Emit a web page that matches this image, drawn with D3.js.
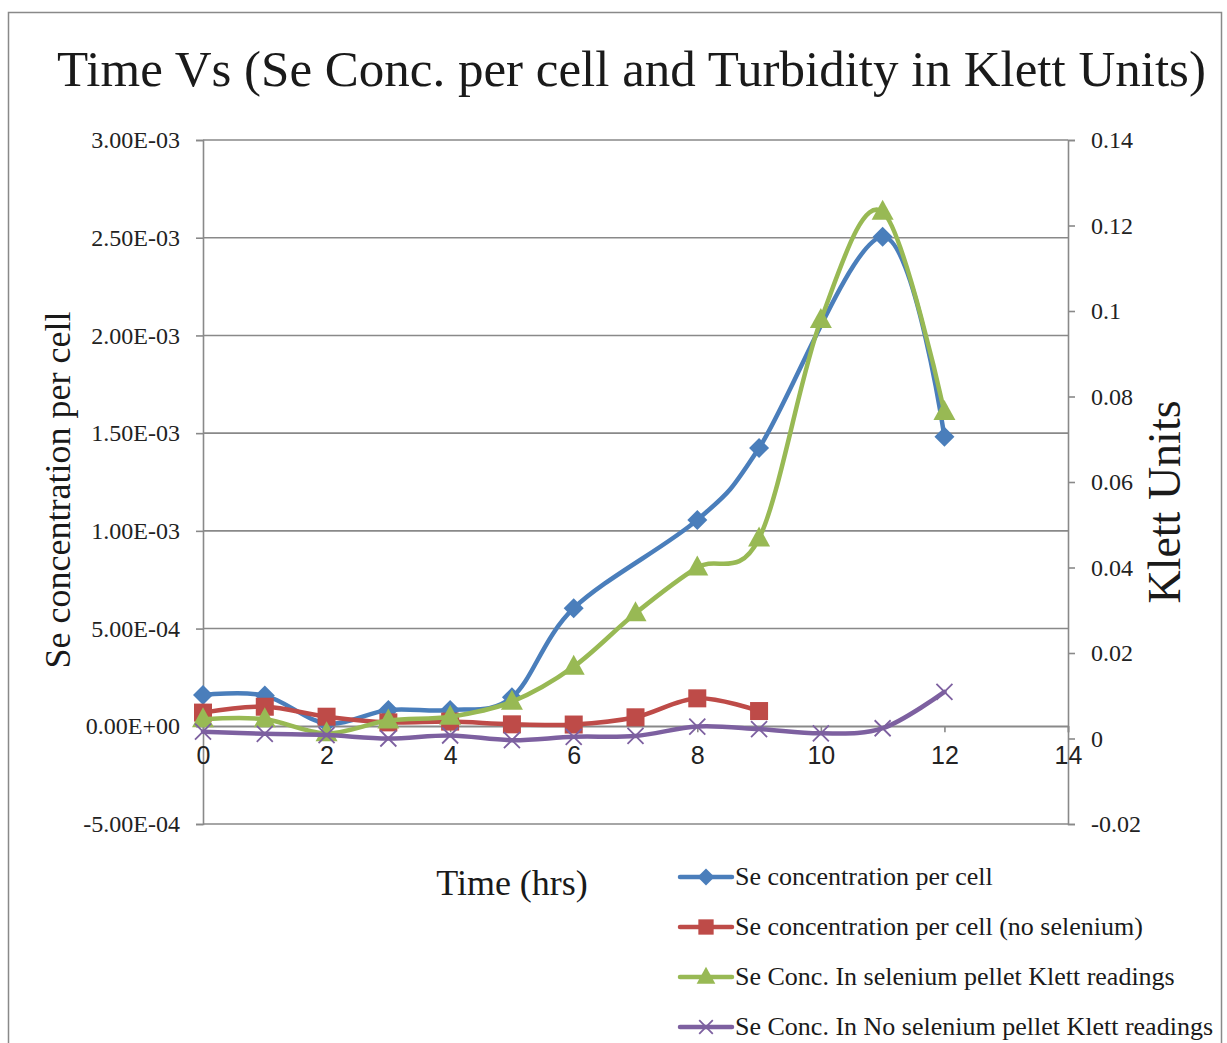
<!DOCTYPE html>
<html><head><meta charset="utf-8">
<script src="https://cdn.jsdelivr.net/npm/d3@7"></script>
<style>body{margin:0;background:#fff}svg{display:block}</style>
</head><body>
<svg id="c" width="1227" height="1043"></svg>
<script>
const hours = [0,1,2,3,4,5,6,7,8,9,10,11,12];
const seConcPerCell = [1.6e-4,1.57e-4,1.5e-5,8.3e-5,8.3e-5,1.48e-4,6.04e-4,null,1.056e-3,1.424e-3,null,2.505e-3,1.482e-3];
const seConcNoSelenium = [7.0e-5,1.0e-4,4.9e-5,2.0e-5,2.4e-5,1.0e-5,9e-6,4.6e-5,1.43e-4,7.8e-5,null,null,null];
const klettSelenium = [0.0045,0.0045,0.0012,0.0042,0.0051,0.0086,0.0168,0.0293,0.0400,0.0468,0.0979,0.1232,0.0764];
const klettNoSelenium = [0.0016,0.0011,0.0008,0.0000,0.0007,-0.0004,0.0004,0.0006,0.0028,0.0022,0.0012,0.0024,0.0109];
const leftTicks = [-5e-4,0,5e-4,1e-3,1.5e-3,2e-3,2.5e-3,3e-3];
const leftTickLabels = ["-5.00E-04","0.00E+00","5.00E-04","1.00E-03","1.50E-03","2.00E-03","2.50E-03","3.00E-03"];
const rightTicks = [-0.02,0,0.02,0.04,0.06,0.08,0.1,0.12,0.14];
const rightTickLabels = ["-0.02","0","0.02","0.04","0.06","0.08","0.1","0.12","0.14"];
const xTicks = [0,2,4,6,8,10,12,14];
const seriesNames = ["Se concentration per cell","Se concentration per cell (no selenium)","Se Conc. In selenium pellet Klett readings","Se Conc. In No selenium pellet Klett readings"];
const seriesColors = ["#4A7EBB","#BE4B48","#98B954","#7D60A0"];

const svg = d3.select("#c");
const serif = "'Liberation Serif','Times New Roman',serif";
const sans = "'Liberation Sans',Arial,sans-serif";
const gray = "#898989";

svg.append("rect").attr("x",8.5).attr("y",12.5).attr("width",1213).attr("height",1040)
  .attr("fill","#fff").attr("stroke",gray).attr("stroke-width",1.5);

const x = d3.scaleLinear().domain([0,14]).range([203,1068]);
const yL = d3.scaleLinear().domain([-5e-4,3e-3]).range([824,140]);
const yR = d3.scaleLinear().domain([-0.02,0.14]).range([824,140]);

// gridlines
svg.append("g").selectAll("line").data(leftTicks).join("line")
  .attr("x1",x(0)).attr("x2",x(14)).attr("y1",d=>yL(d)).attr("y2",d=>yL(d))
  .attr("stroke",gray).attr("stroke-width",1.6);

// left axis
const gL = svg.append("g").attr("transform",`translate(${x(0)},0)`)
  .call(d3.axisLeft(yL).tickValues(leftTicks).tickFormat((d,i)=>leftTickLabels[i]).tickSize(7).tickPadding(16));
gL.select(".domain").attr("stroke",gray).attr("stroke-width",1.6);
gL.selectAll(".tick line").attr("stroke",gray).attr("stroke-width",1.6);
gL.selectAll("text").attr("font-family",serif).attr("font-size",24).attr("fill","#222");

// right axis
const gR = svg.append("g").attr("transform",`translate(${x(14)},0)`)
  .call(d3.axisRight(yR).tickValues(rightTicks).tickFormat((d,i)=>rightTickLabels[i]).tickSize(7).tickPadding(16));
gR.select(".domain").attr("stroke",gray).attr("stroke-width",1.6);
gR.selectAll(".tick line").attr("stroke",gray).attr("stroke-width",1.6);
gR.selectAll("text").attr("font-family",serif).attr("font-size",24).attr("fill","#222");

// x axis at y=0 of left axis
const gX = svg.append("g").attr("transform",`translate(0,${yL(0)})`)
  .call(d3.axisBottom(x).tickValues(xTicks).tickFormat(d3.format("d")).tickSize(6).tickPadding(14));
gX.select(".domain").attr("stroke",gray).attr("stroke-width",1.6);
gX.selectAll(".tick line").attr("stroke",gray).attr("stroke-width",1.6);
gX.selectAll("text").attr("font-family",sans).attr("font-size",25).attr("fill","#222");

// titles
svg.append("text").attr("x",57).attr("y",86).attr("font-family",serif).attr("font-size",51)
  .attr("fill","#1a1a1a").text("Time Vs (Se Conc. per cell and Turbidity in Klett Units)");
svg.append("text").attr("transform","translate(70,490) rotate(-90)").attr("text-anchor","middle")
  .attr("font-family",serif).attr("font-size",36).attr("fill","#1a1a1a").text("Se concentration per cell");
svg.append("text").attr("transform","translate(1180,502) rotate(-90)").attr("text-anchor","middle")
  .attr("font-family",serif).attr("font-size",46).attr("fill","#1a1a1a").text("Klett Units");
svg.append("text").attr("x",512).attr("y",895).attr("text-anchor","middle")
  .attr("font-family",serif).attr("font-size",36).attr("fill","#1a1a1a").text("Time (hrs)");

// markers
function drawMarker(g, type, color, cx, cy, s) {
  s = s || 1;
  if (type===0) {
    g.append("path").attr("d",`M${cx},${cy-10*s}L${cx+10*s},${cy}L${cx},${cy+10*s}L${cx-10*s},${cy}Z`).attr("fill",color);
  } else if (type===1) {
    g.append("rect").attr("x",cx-9*s).attr("y",cy-9*s).attr("width",18*s).attr("height",18*s).attr("fill",color);
  } else if (type===2) {
    g.append("path").attr("d",`M${cx},${cy-12*s}L${cx+11*s},${cy+8*s}L${cx-11*s},${cy+8*s}Z`).attr("fill",color);
  } else {
    g.append("path").attr("d",`M${cx-8*s},${cy-8*s}L${cx+8*s},${cy+8*s}M${cx+8*s},${cy-8*s}L${cx-8*s},${cy+8*s}`)
      .attr("stroke",color).attr("stroke-width",1.8).attr("fill","none");
  }
}

const allSeries = [
  {vals: seConcPerCell, y: yL},
  {vals: seConcNoSelenium, y: yL},
  {vals: klettSelenium, y: yR},
  {vals: klettNoSelenium, y: yR}
];
const line = d3.line().curve(d3.curveCardinal.tension(0));
allSeries.forEach((s,i)=>{
  const pts = hours.map((h,j)=>[h,s.vals[j]]).filter(p=>p[1]!==null).map(p=>[x(p[0]), s.y(p[1])]);
  const g = svg.append("g");
  g.append("path").attr("d",line(pts)).attr("fill","none").attr("stroke",seriesColors[i])
    .attr("stroke-width",4.5).attr("stroke-linecap","round").attr("stroke-linejoin","round");
  pts.forEach(p=>drawMarker(g,i,seriesColors[i],p[0],p[1]));
});

// legend
const legY = [877,927,977,1027];
seriesNames.forEach((n,i)=>{
  const g = svg.append("g");
  g.append("line").attr("x1",680).attr("x2",732).attr("y1",legY[i]).attr("y2",legY[i])
    .attr("stroke",seriesColors[i]).attr("stroke-width",4.5).attr("stroke-linecap","round");
  drawMarker(g,i,seriesColors[i],706,legY[i],0.85);
  g.append("text").attr("x",735).attr("y",legY[i]+8).attr("font-family",serif).attr("font-size",26)
    .attr("fill","#1a1a1a").text(n);
});
</script>
</body></html>
